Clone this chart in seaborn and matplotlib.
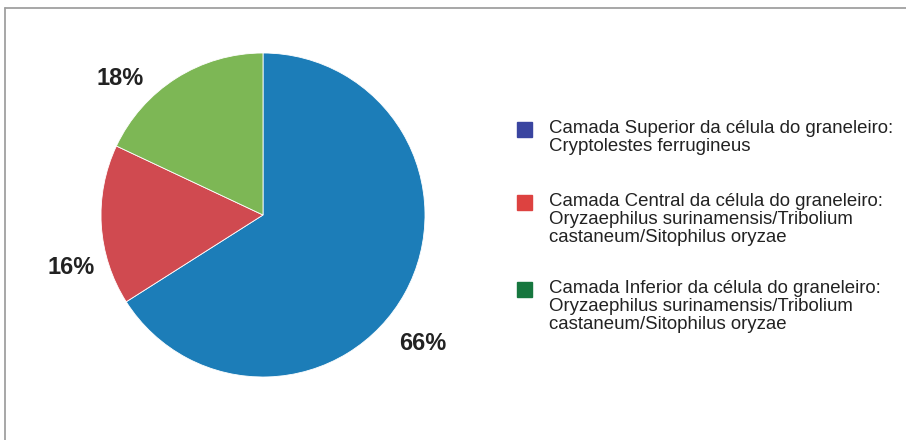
import numpy as np
import matplotlib.pyplot as plt
import seaborn as sns
from matplotlib.patches import Rectangle
from matplotlib.lines import Line2D

# data
labels = [
    "Camada Superior da célula do graneleiro:\nCryptolestes ferrugineus",
    "Camada Central da célula do graneleiro:\nOryzaephilus surinamensis/Tribolium\ncastaneum/Sitophilus oryzae",
    "Camada Inferior da célula do graneleiro:\nOryzaephilus surinamensis/Tribolium\ncastaneum/Sitophilus oryzae",
]
shares = [66, 16, 18]
pie_colors = ["#1c7db8", "#d04a50", "#7db755"]
legend_colors = ["#3a45a0", "#dd4240", "#17773f"]
# angle offsets (deg) and radial distance of the percentage labels
label_shift = [-9.6, 11.1, 13.4]
label_dist = [1.26, 1.225, 1.23]

sns.set_theme(style="white")
plt.rcParams['font.family'] = ['Liberation Sans', 'DejaVu Sans']

W, H = 906, 440
fig = plt.figure(figsize=(W / 100, H / 100), dpi=100)

# frame lines (top and left)
fig.add_artist(Line2D([5 / W, 1], [1 - 8 / H, 1 - 8 / H], color="#a0a0a0", lw=1.3))
fig.add_artist(Line2D([5 / W, 5 / W], [0, 1 - 8 / H], color="#a0a0a0", lw=1.3))

# pie axes: centre (263, 215), radius ~162 px
cx, cy, r = 263, 215, 162
ax = fig.add_axes([(cx - r) / W, 1 - (cy + r) / H, 2 * r / W, 2 * r / H])
wedges, _ = ax.pie(shares, colors=pie_colors, startangle=90, counterclock=False,
                   radius=1, wedgeprops=dict(linewidth=0.6, edgecolor="white"))
ax.set_xlim(-1, 1)
ax.set_ylim(-1, 1)
ax.set_aspect("equal")
ax.axis("off")

for w, s, d, k in zip(wedges, shares, label_shift, label_dist):
    mid = np.deg2rad((w.theta1 + w.theta2) / 2 + d)
    ax.text(k * np.cos(mid), k * np.sin(mid) - 0.012, f"{s}%", ha="center", va="center",
            fontsize=17, fontweight="bold", color="#222222", clip_on=False)

# legend drawn manually
first_baseline = [138, 211, 298]
for lab, col, y in zip(labels, legend_colors, first_baseline):
    fig.add_artist(Rectangle((517 / W, 1 - (y - 1) / H), 15 / W, 15 / H,
                             transform=fig.transFigure, color=col))
    fig.text(549 / W, 1 - (y - 18) / H, lab, ha="left", va="top", fontsize=13.4,
             color="#222222", linespacing=1.07)

fig.savefig("out.png", dpi=100)
